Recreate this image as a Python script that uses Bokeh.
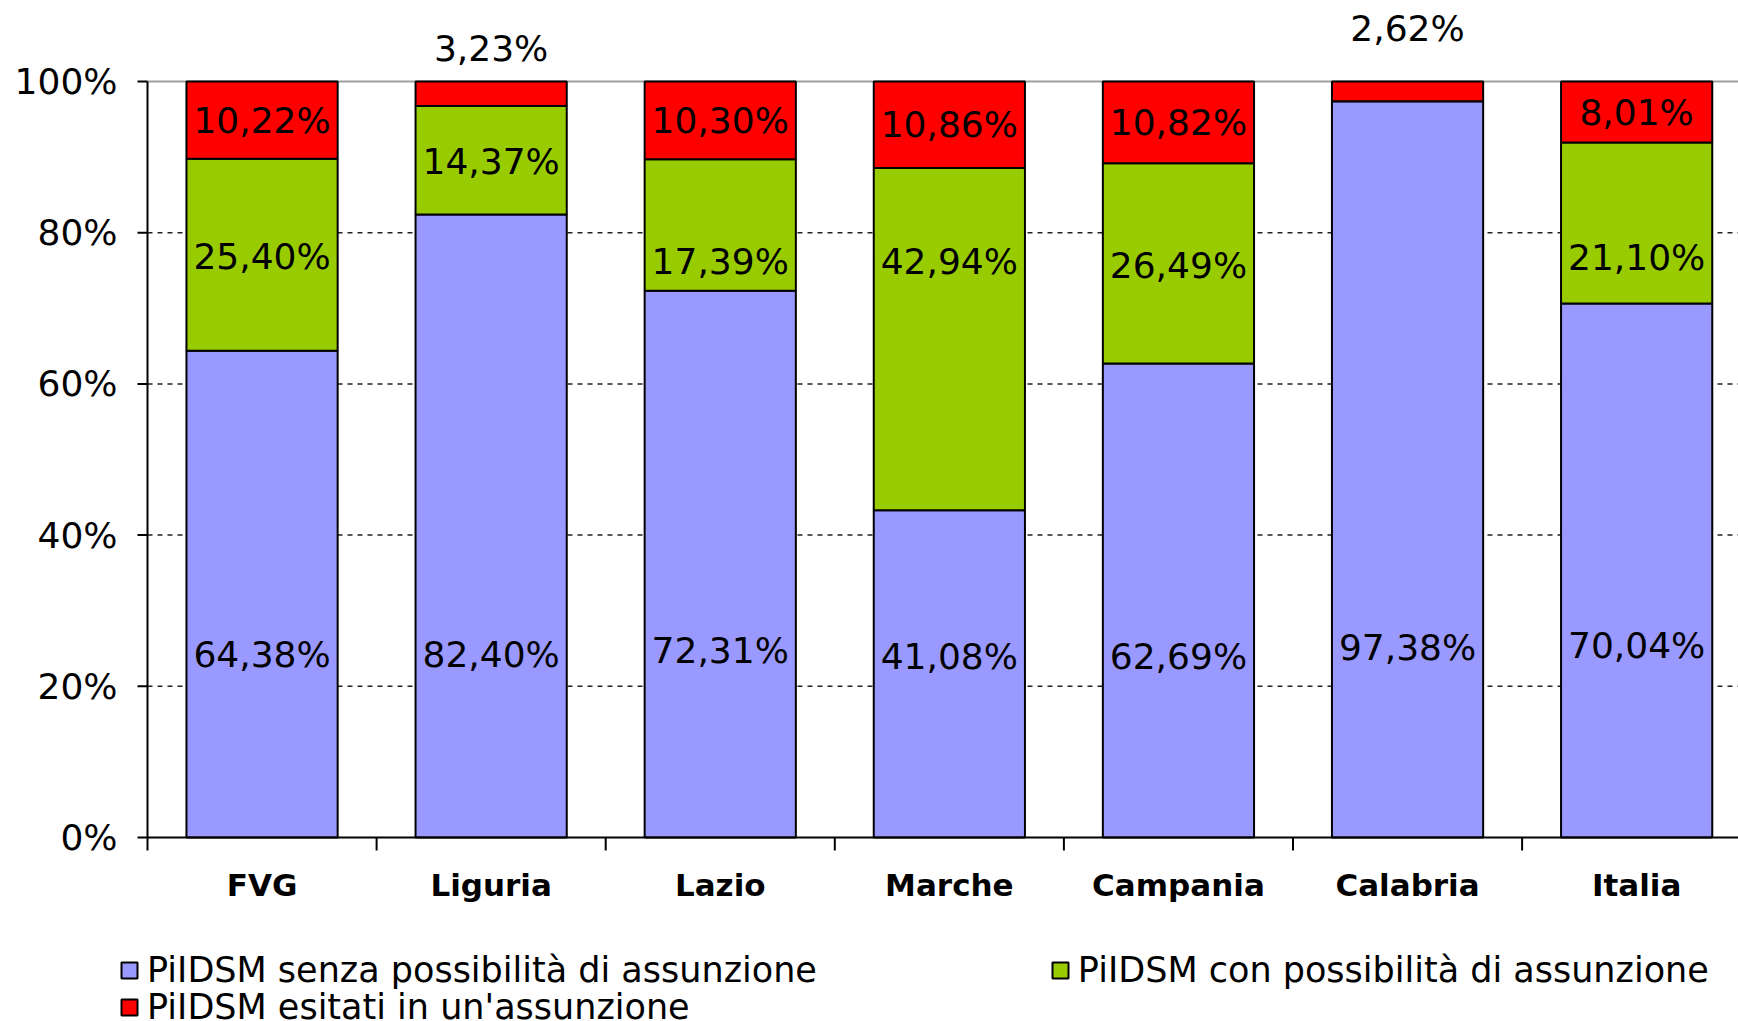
from bokeh.plotting import figure
from bokeh.models import ColumnDataSource, Legend, LegendItem, Range1d
from bokeh.core.properties import value
from bokeh.embed import file_html
from bokeh.resources import INLINE

# --- data -------------------------------------------------------------
regions = ["FVG", "Liguria", "Lazio", "Marche", "Campania", "Calabria", "Italia"]
senza = [64.38, 82.40, 72.31, 41.08, 62.69, 97.38, 70.04]
con = [25.40, 14.37, 17.39, 42.94, 26.49, 0.0, 21.10]
esitati = [10.22, 3.23, 10.30, 10.86, 10.82, 2.62, 8.01]
series_names = [
    "PiIDSM senza possibilità di assunzione",
    "PiIDSM con possibilità di assunzione",
    "PiIDSM esitati in un'assunzione",
]
y_ticks = [0, 20, 40, 60, 80, 100]
y_tick_labels = ["0%", "20%", "40%", "60%", "80%", "100%"]

# --- layout of the value labels (percent of the axis) --------------------
senza_label_y = [24.2, 24.2, 24.8, 23.9, 23.9, 25.1, 25.4]
con_label_y = [76.8, 89.4, 76.2, 76.2, 75.6, 0.0, 76.7]
esitati_label_y = [94.9, 104.4, 94.9, 94.3, 94.6, 107.0, 95.9]

BLUE = "#9999FF"
GREEN = "#99CC00"
RED = "#FF0000"
FONT = "DejaVu Sans"

W, H = 1738, 1021
ORIGIN_X, ORIGIN_Y = 147, 837       # pixel position of (0, 0%)
CAT_PX = 229.1                      # pixels per category slot
PCT_PX = 7.56                       # pixels per percentage point


def dx(px):
    return px / CAT_PX


def dy(px):
    return px / PCT_PX


x_end = (W - ORIGIN_X) / CAT_PX
p = figure(width=W, height=H, output_backend="svg", toolbar_location=None,
           x_range=Range1d(-ORIGIN_X / CAT_PX, x_end),
           y_range=Range1d(-(H - ORIGIN_Y) / PCT_PX, ORIGIN_Y / PCT_PX),
           x_axis_location=None, y_axis_location=None,
           min_border=0)
p.outline_line_color = None
p.background_fill_color = "white"
p.grid.visible = False

# 100% stacking: every bar is scaled to its own total
xs = [i + 0.5 for i in range(len(regions))]
totals = [a + b + c for a, b, c in zip(senza, con, esitati)]
s_top = [a / t * 100 for a, t in zip(senza, totals)]
c_top = [(a + b) / t * 100 for a, b, t in zip(senza, con, totals)]
e_top = [100.0 for _ in totals]


def fmt(v):
    return f"{v:.2f}".replace(".", ",") + "%"


# dashed gridlines and the gray top border of the plot area
grid_y = y_ticks[1:-1]
p.segment(x0=[0] * len(grid_y), x1=[x_end] * len(grid_y), y0=grid_y, y1=grid_y,
          line_color="#222222", line_width=1.5, line_dash="5 5")
p.segment(x0=[0], x1=[x_end], y0=[100], y1=[100], line_color="#A0A0A0", line_width=2)

bar_w = 0.66
src_s = ColumnDataSource(dict(x=xs, bottom=[0] * len(xs), top=s_top))
src_c = ColumnDataSource(dict(x=xs, bottom=s_top, top=c_top))
src_e = ColumnDataSource(dict(x=xs, bottom=c_top, top=e_top))

r_s = p.vbar(x="x", bottom="bottom", top="top", width=bar_w, source=src_s,
             fill_color=BLUE, line_color="black", line_width=2)
r_c = p.vbar(x="x", bottom="bottom", top="top", width=bar_w, source=src_c,
             fill_color=GREEN, line_color="black", line_width=2)
r_e = p.vbar(x="x", bottom="bottom", top="top", width=bar_w, source=src_e,
             fill_color=RED, line_color="black", line_width=2)

# value labels
lab_x, lab_y, lab_t = [], [], []
for vals, ys in ((senza, senza_label_y), (con, con_label_y), (esitati, esitati_label_y)):
    for x, v, y in zip(xs, vals, ys):
        if v > 0:
            lab_x.append(x)
            lab_y.append(y)
            lab_t.append(fmt(v))
p.text(x=lab_x, y=lab_y, text=lab_t, text_align="center", text_baseline="middle",
       text_font=value(FONT), text_font_size="36px", text_color="black")

# value axis: line, outward ticks and percentage labels
p.segment(x0=[0], x1=[0], y0=[0], y1=[100], line_color="black", line_width=2)
p.segment(x0=[0] * len(y_ticks), x1=[-dx(10)] * len(y_ticks), y0=y_ticks, y1=y_ticks,
          line_color="black", line_width=2)
p.text(x=[-dx(30)] * len(y_ticks), y=y_ticks, text=y_tick_labels,
       text_align="right", text_baseline="middle",
       text_font=value(FONT), text_font_size="36px", text_color="black")

# category axis: line, tick marks between categories and region names
bounds = list(range(len(regions) + 1))
p.segment(x0=[0], x1=[x_end], y0=[0], y1=[0], line_color="black", line_width=2)
p.segment(x0=bounds, x1=bounds, y0=[0] * len(bounds), y1=[-dy(13)] * len(bounds),
          line_color="black", line_width=2)
p.text(x=xs, y=[-dy(47)] * len(xs), text=regions, text_align="center",
       text_baseline="middle", text_font=value(FONT), text_font_style="bold",
       text_font_size="31px", text_color="black")


def make_legend(items, loc, spacing=0):
    return Legend(items=items, location=loc, orientation="horizontal", spacing=spacing,
                  padding=0, margin=0, border_line_alpha=0, background_fill_alpha=0,
                  glyph_width=20, glyph_height=20, label_standoff=8,
                  label_text_font=FONT, label_text_font_size="35px",
                  label_text_color="black")


leg1 = make_legend([LegendItem(label=series_names[0], renderers=[r_s]),
                    LegendItem(label=series_names[1], renderers=[r_c])],
                   (119, 31), spacing=233)
leg2 = make_legend([LegendItem(label=series_names[2], renderers=[r_e])], (119, -6))
p.add_layout(leg1)
p.add_layout(leg2)

open("out.html", "w").write(file_html(p, INLINE))
